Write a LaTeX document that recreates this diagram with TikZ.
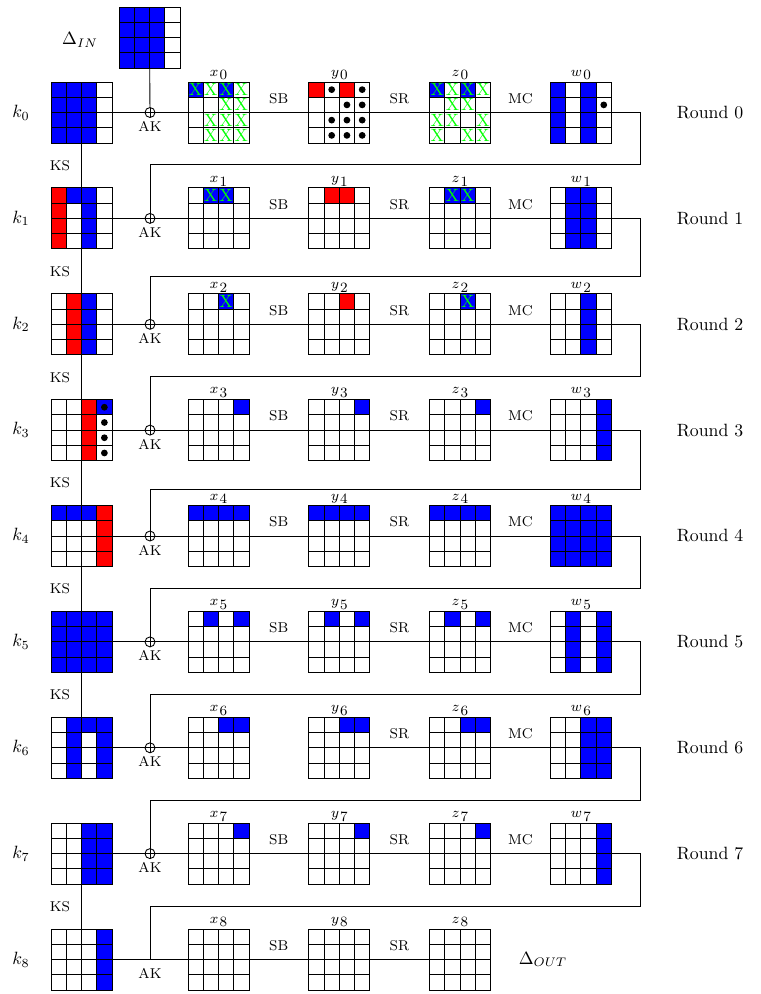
\documentclass[tikz,border=0pt]{standalone}
\usetikzlibrary{calc}
\newcommand\cellsz{15.25}
\newcommand\half{7.625}
\tikzset{
  gridbox/.style={draw, fill=white, minimum size=34.31pt, inner sep=0pt, outer sep=0pt, line width=0.5pt},
  conn/.style={line width=0.5pt},
  xorc/.style={circle, draw, fill=white, minimum size=5.6pt, inner sep=0pt, outer sep=0pt, line width=0.5pt},
  oplbl/.style={font=\footnotesize, inner sep=0pt},
  gridlbl/.style={font=\footnotesize, inner sep=0.8pt, anchor=south},
  xmark/.style={text=green, inner sep=0pt, font=\normalsize},
  roundlbl/.style={inner sep=0pt},
}
\newcommand\colf[3]{\foreach \cj in {#2}{\foreach \ri in {0,1,2,3}{\fill[#3] ($(#1.north west)+(\cj*\cellsz,\ri*\cellsz)$) rectangle ++(\cellsz,\cellsz);}}}
\newcommand\cellf[3]{\foreach \ri/\cj in {#2}{\fill[#3] ($(#1.north west)+(\cj*\cellsz,\ri*\cellsz)$) rectangle ++(\cellsz,\cellsz);}}
\newcommand\glines[1]{\foreach \gi in {1,2,3}{\draw[conn] ($(#1.north west)+(\gi*\cellsz,0)$) -- ++(0,61); \draw[conn] ($(#1.north west)+(0,\gi*\cellsz)$) -- ++(61,0);}\draw[conn] (#1.north west) rectangle (#1.south east);}
\newcommand\xm[2]{\foreach \ri/\cj in {#2}{\node[xmark] at ($(#1.north west)+(\cj*\cellsz+\half,\ri*\cellsz+\half)$) {X};}}
\newcommand\dt[2]{\foreach \ri/\cj in {#2}{\fill ($(#1.north west)+(\cj*\cellsz+\half,\ri*\cellsz+\half)$) circle[radius=1.9pt];}}
\newcommand\lbl[2]{\raisebox{2pt}{$#1$}\hspace{0.6pt}#2}
\begin{document}
\begin{tikzpicture}[x=0.5625pt,y=-0.5625pt]
\useasboundingbox (0,0) rectangle (761,994);
% grids
\node[gridbox] (din) at (149.5,37.5) {};
\node (dinl) at (80,40) {$\Delta_{IN}$};
\foreach \i/\m in {0/112.5,1/218.4,2/324.3,3/430.1,4/536.0,5/641.9,6/747.8,7/853.6,8/959.5}{
  \node[gridbox] (k\i) at (81.5,\m) {};
  \node[gridbox] (x\i) at (218.5,\m) {};
  \node[gridbox] (y\i) at (339.3,\m) {};
  \node[gridbox] (z\i) at (460.1,\m) {};
  \node (kl\i) at (21,\m) {$k_{\i}$};
  \node[oplbl] (ak\i) at (150,\m+14) {AK};
  \node[oplbl] (sr\i) at (399.4,\m-14) {SR};
  \node[gridlbl] (xl\i) at (x\i.north) {\lbl{x}{\i}};
  \node[gridlbl] (yl\i) at (y\i.north) {\lbl{y}{\i}};
  \node[gridlbl] (zl\i) at (z\i.north) {\lbl{z}{\i}};
}
\foreach \i/\m in {0/112.5,1/218.4,2/324.3,3/430.1,4/536.0,5/641.9,6/747.8,7/853.6}{
  \node[gridbox] (w\i) at (580.9,\m) {};
  \node[gridlbl] (wl\i) at (w\i.north) {\lbl{w}{\i}};
  \node[oplbl] (mc\i) at (520.5,\m-14) {MC};
  \node[roundlbl] (rl\i) at (710,\m) {Round \i};
  \node[xorc] (xor\i) at (150,\m) {};
  \draw[conn] (xor\i.north) -- (xor\i.south) (xor\i.west) -- (xor\i.east);
}
\foreach \i/\m in {0/112.5,1/218.4,2/324.3,3/430.1,4/536.0,5/641.9,7/853.6,8/959.5}{
  \node[oplbl] (sb\i) at (278.7,\m-14) {SB};
}
\foreach \i/\m in {0/112.5,1/218.4,2/324.3,3/430.1,4/536.0,5/641.9,7/853.6}{
  \node[oplbl] (ks\i) at (60,\m+53) {KS};
}
\node (dout) at (543,959.5) {$\Delta_{OUT}$};
% fills
\colf{din}{0,1,2}{blue}
\colf{k0}{0,1,2}{blue}
\cellf{x0}{0/0,0/2}{blue}
\cellf{y0}{0/0,0/2}{red}
\cellf{z0}{0/0,0/2}{blue}
\colf{w0}{0,2}{blue}
\colf{k1}{0}{red}\colf{k1}{2}{blue}\cellf{k1}{0/1}{blue}
\cellf{x1}{0/1,0/2}{blue}
\cellf{y1}{0/1,0/2}{red}
\cellf{z1}{0/1,0/2}{blue}
\colf{w1}{1,2}{blue}
\colf{k2}{1}{red}\colf{k2}{2}{blue}
\cellf{x2}{0/2}{blue}
\cellf{y2}{0/2}{red}
\cellf{z2}{0/2}{blue}
\colf{w2}{2}{blue}
\colf{k3}{2}{red}\cellf{k3}{0/3}{blue}
\cellf{x3}{0/3}{blue}\cellf{y3}{0/3}{blue}\cellf{z3}{0/3}{blue}
\colf{w3}{3}{blue}
\cellf{k4}{0/0,0/1,0/2}{blue}\colf{k4}{3}{red}
\cellf{x4}{0/0,0/1,0/2,0/3}{blue}\cellf{y4}{0/0,0/1,0/2,0/3}{blue}\cellf{z4}{0/0,0/1,0/2,0/3}{blue}
\colf{w4}{0,1,2,3}{blue}
\colf{k5}{0,1,2,3}{blue}
\cellf{x5}{0/1,0/3}{blue}\cellf{y5}{0/1,0/3}{blue}\cellf{z5}{0/1,0/3}{blue}
\colf{w5}{1,3}{blue}
\colf{k6}{1,3}{blue}\cellf{k6}{0/2}{blue}
\cellf{x6}{0/2,0/3}{blue}\cellf{y6}{0/2,0/3}{blue}\cellf{z6}{0/2,0/3}{blue}
\colf{w6}{2,3}{blue}
\colf{k7}{2,3}{blue}
\cellf{x7}{0/3}{blue}\cellf{y7}{0/3}{blue}\cellf{z7}{0/3}{blue}
\colf{w7}{3}{blue}
\colf{k8}{3}{blue}
% grid lines
\foreach \n in {din,k0,k1,k2,k3,k4,k5,k6,k7,k8,x0,x1,x2,x3,x4,x5,x6,x7,x8,y0,y1,y2,y3,y4,y5,y6,y7,y8,z0,z1,z2,z3,z4,z5,z6,z7,z8,w0,w1,w2,w3,w4,w5,w6,w7}{\glines{\n}}
% marks
\xm{x0}{0/0,0/1,0/2,0/3,1/2,1/3,2/1,2/2,2/3,3/1,3/2,3/3}
\dt{y0}{0/1,0/3,1/2,1/3,2/1,2/2,2/3,3/1,3/2,3/3}
\xm{z0}{0/0,0/1,0/2,0/3,1/1,1/2,2/0,2/1,2/3,3/0,3/2,3/3}
\dt{w0}{1/3}
\xm{x1}{0/1,0/2}
\xm{z1}{0/1,0/2}
\xm{x2}{0/2}
\xm{z2}{0/2}
\dt{k3}{0/3,1/3,2/3,3/3}
% connectors
\draw[conn] (din) -- (xor0);
\foreach \i in {0,...,7}{
  \draw[conn] (k\i) -- (xor\i) -- (x\i);
  \draw[conn] (y\i) -- (z\i);
  \draw[conn] (z\i) -- (w\i);
}
\foreach \i in {0,1,2,3,4,5,7}{\draw[conn] (x\i) -- (y\i);}
\coordinate (ak8c) at (150,959.5);
\draw[conn] (k8) -- (x8);
\draw[conn] (x8) -- (y8);
\draw[conn] (y8) -- (z8);
\foreach \i/\j/\r in {0/1/164.3,1/2/276.7,2/3/376.7,3/4/489,4/5/588.3,5/6/694.3,6/7/800}{
  \coordinate (rt\i) at (640,\r);
  \draw[conn] (w\i.east) -| (rt\i) -| (xor\j.north);
}
\coordinate (rt7) at (640,906.7);
\draw[conn] (w7.east) -| (rt7) -| (ak8c);
\foreach \i/\j in {0/1,1/2,2/3,3/4,4/5,5/6,7/8}{\draw[conn] (k\i) -- (k\j);}
\end{tikzpicture}
\end{document}
